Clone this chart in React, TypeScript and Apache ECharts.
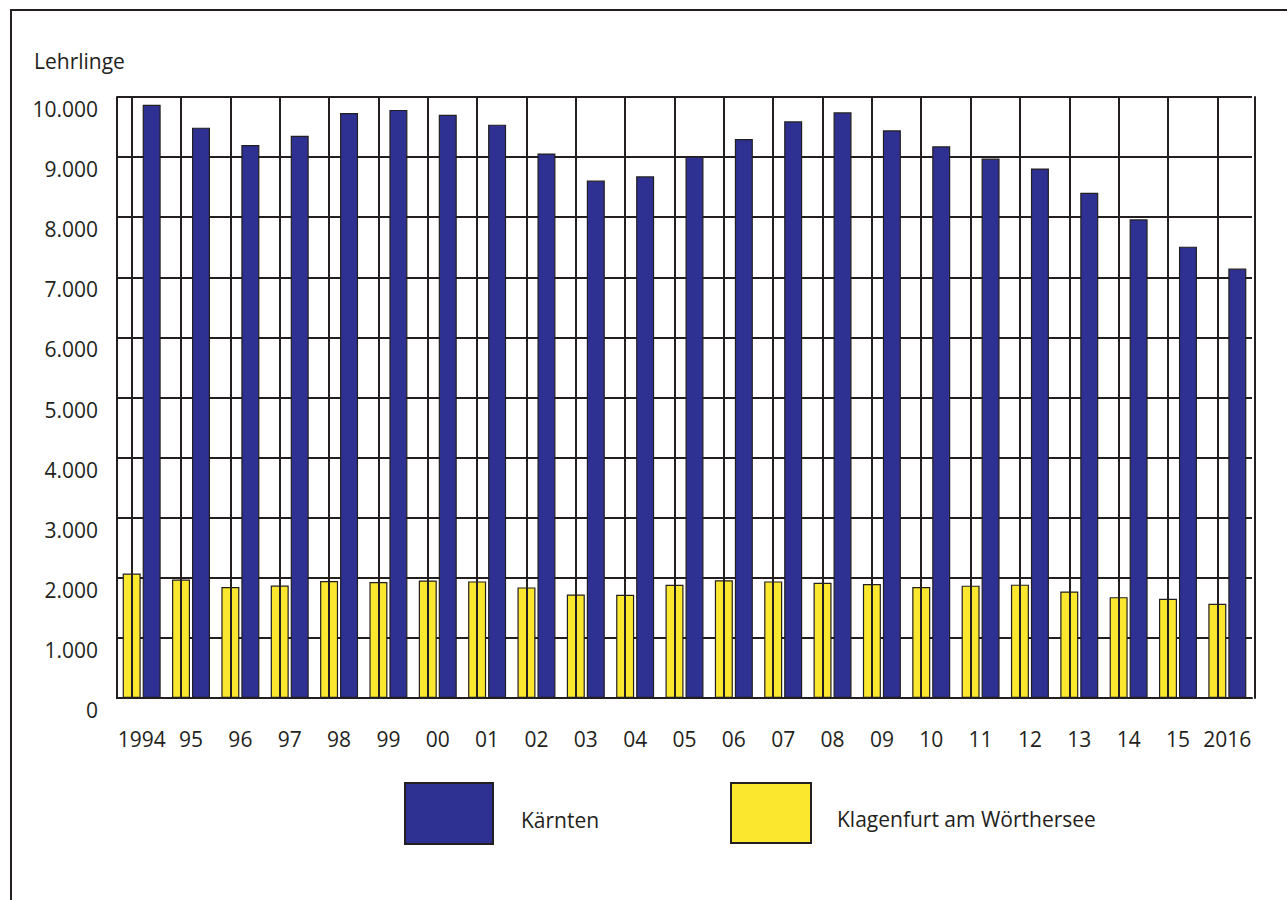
import React, { useEffect, useRef } from "react";
import * as echarts from "echarts";

const categories = ["1994", "95", "96", "97", "98", "99", "00", "01", "02", "03", "04", "05", "06", "07", "08", "09", "10", "11", "12", "13", "14", "15", "2016"];
const kaernten = [9870, 9490, 9200, 9355, 9735, 9785, 9705, 9540, 9060, 8610, 8680, 9010, 9300, 9595, 9745, 9445, 9180, 8975, 8810, 8405, 7965, 7510, 7145];
const klagenfurt = [2070, 1970, 1845, 1870, 1945, 1930, 1955, 1940, 1840, 1722, 1717, 1883, 1960, 1940, 1918, 1895, 1845, 1869, 1886, 1772, 1678, 1650, 1567];
const yTicks = [0, 1000, 2000, 3000, 4000, 5000, 6000, 7000, 8000, 9000, 10000];

const DARK = "#231f20";
const BLUE = "#2e3092";
const YELLOW = "#fbe72d";
const FONT = "Open Sans";
const FS = 21;

function fmt(v: number): string {
  if (v === 0) return "0";
  const s = String(v);
  return s.replace(/\B(?=(\d{3})+(?!\d))/g, ".");
}

export default function App() {
  const ref = useRef<HTMLDivElement>(null);
  useEffect(() => {
    if (!ref.current) return;
    const chart = echarts.init(ref.current, undefined, { renderer: "svg" });
    chart.setOption({
      animation: false,
      backgroundColor: "#ffffff",
      textStyle: { fontFamily: FONT, color: DARK },
      title: {
        text: "Lehrlinge",
        left: 29,
        top: 45,
        textStyle: { fontFamily: FONT, fontSize: FS, fontWeight: "normal", color: DARK },
      },
      graphic: [
        {
          type: "rect",
          silent: true,
          z: -1,
          shape: { x: 11, y: 10, width: 1300, height: 1000 },
          style: { fill: "none", stroke: DARK, lineWidth: 2 },
        },
      ],
      legend: [
        {
          data: ["Kärnten"],
          icon: "rect",
          left: 399,
          top: 777,
          itemWidth: 88,
          itemHeight: 61,
          selectedMode: false,
          formatter: (n: string) => "\n" + n,
          textStyle: { fontFamily: FONT, fontSize: FS, lineHeight: 13, color: DARK, padding: [0, 0, 0, 23] },
        },
        {
          data: ["Klagenfurt am Wörthersee"],
          icon: "rect",
          left: 725,
          top: 777,
          itemWidth: 80,
          itemHeight: 60,
          selectedMode: false,
          formatter: (n: string) => "\n" + n,
          textStyle: { fontFamily: FONT, fontSize: FS, lineHeight: 12, color: DARK, padding: [0, 0, 0, 21] },
        },
      ],
      grid: { left: 117, right: 35, top: 97, bottom: 202, containLabel: false },
      xAxis: {
        type: "category",
        data: categories,
        boundaryGap: true,
        axisLine: { show: true, lineStyle: { color: DARK, width: 2 } },
        axisTick: { show: false },
        splitLine: { show: false },
        axisLabel: { fontFamily: FONT, fontSize: FS, color: DARK, margin: 30, interval: 0 },
      },
      yAxis: [
        {
          type: "value",
          min: yTicks[0],
          max: yTicks[yTicks.length - 1],
          interval: 1000,
          axisLine: { show: true, lineStyle: { color: DARK, width: 2 } },
          axisTick: { show: false },
          splitLine: { show: true, lineStyle: { color: DARK, width: 2 } },
          axisLabel: {
            fontFamily: FONT,
            fontSize: FS,
            color: DARK,
            margin: 19,
            verticalAlign: "top",
            lineHeight: 24,
            formatter: (v: number) => fmt(v),
          },
        },
        {
          type: "value",
          position: "right",
          offset: 3,
          min: yTicks[0],
          max: yTicks[yTicks.length - 1],
          interval: 1000,
          axisLine: { show: true, lineStyle: { color: DARK, width: 2 } },
          axisTick: { show: false },
          splitLine: { show: false },
          axisLabel: { show: false },
        },
      ],
      series: [
        {
          name: "Klagenfurt am Wörthersee",
          type: "bar",
          data: klagenfurt,
          barWidth: 18,
          barGap: "11%",
          itemStyle: { color: YELLOW, borderColor: DARK, borderWidth: 1.2 },
          markLine: {
            silent: true,
            symbol: "none",
            label: { show: false },
            lineStyle: { color: DARK, width: 2, type: "solid" },
            data: categories.map((c) => ({ xAxis: c })),
          },
        },
        {
          name: "Kärnten",
          type: "bar",
          data: kaernten,
          barWidth: 18,
          barGap: "11%",
          itemStyle: { color: BLUE, borderColor: DARK, borderWidth: 1.2 },
        },
      ],
    });
    return () => chart.dispose();
  }, []);
  return (
    <div
      ref={ref}
      style={{ position: "absolute", left: 0, top: 0, width: 1287, height: 900 }}
    />
  );
}
